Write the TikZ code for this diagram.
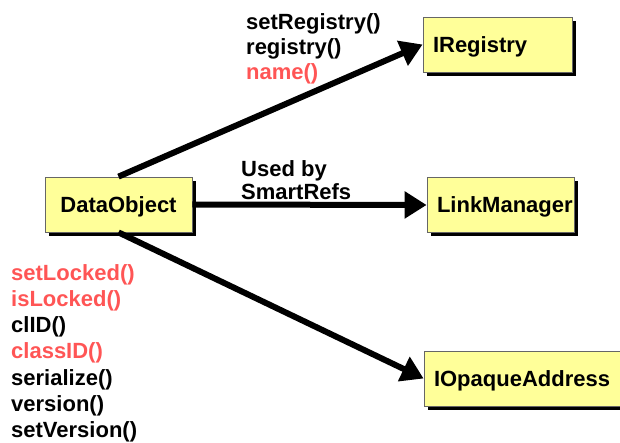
\documentclass[tikz,border=0pt]{standalone}
\usepackage{fontspec}
\setmainfont{Liberation Sans}
\usepackage{xcolor}
\definecolor{boxfill}{RGB}{255,255,153}
\definecolor{hilite}{RGB}{255,85,85}
\usetikzlibrary{arrows.meta,shadows}
\tikzset{>={Triangle[length=22pt,width=26pt]},
    classbox/.style={draw=black!60, fill=boxfill, line width=0.8pt,
      minimum height=55pt, inner xsep=10pt, text height=15.8pt, text depth=0pt,
      font=\bfseries\fontsize{22}{26}\selectfont,
      drop shadow={shadow xshift=4pt, shadow yshift=-4pt, fill=black, opacity=1}},
    method/.style={inner sep=0pt, anchor=base west, font=\bfseries\fontsize{22}{26}\selectfont},
    uses/.style={->, line width=6pt}}

\begin{document}
\begin{tikzpicture}[x=1pt, y=-1pt]
  \useasboundingbox (0,0) rectangle (620,443);
  % classes
  \node[classbox, minimum width=147pt] (data) at (118.5,204.5) {DataObject};
  \node[classbox, text width=129pt, align=left] (registry) at (497.5,44.5) {IRegistry};
  \node[classbox, text width=127pt, align=left] (link) at (500.5,205) {LinkManager};
  \node[classbox, text width=180pt, align=left] (opaque) at (524,378.5) {IOpaqueAddress};

  % dependencies
  \draw[uses] (data.north) -- (registry.west);
  \draw[uses] (data.east) -- (link.west);
  \draw[uses] (data.south) -- (opaque.west);

  % methods
  \foreach \mth/\col [count=\i] in {setRegistry()/black, registry()/black, name()/hilite}
    \node[method, text=\col] (r\i) at (246, 5+25*\i) {\mth};
  \node[method] (usedby) at (241,177) {Used by};
  \node[method] (smartrefs) at (241,200) {SmartRefs};
  \foreach \mth/\col [count=\i] in {setLocked()/hilite, isLocked()/hilite, clID()/black,
      classID()/hilite, serialize()/black, version()/black, setVersion()/black}
    \node[method, text=\col] (m\i) at (11, 253.7+26.3*\i) {\mth};
\end{tikzpicture}
\end{document}
